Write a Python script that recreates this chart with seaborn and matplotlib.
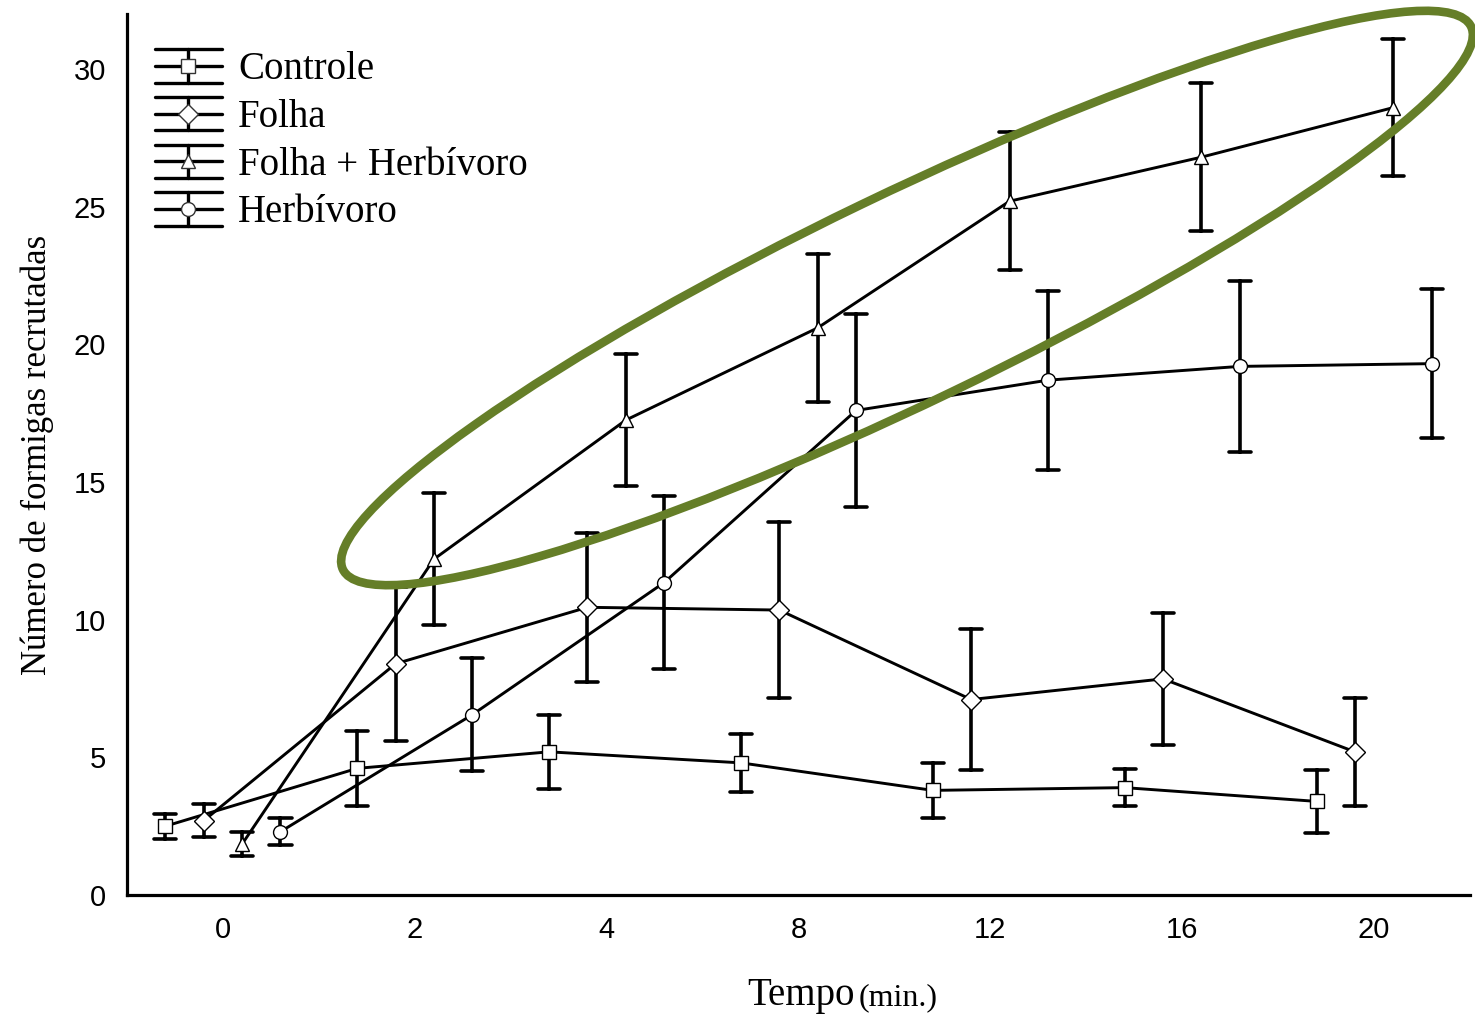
import matplotlib
matplotlib.use("Agg")
import matplotlib.pyplot as plt
from matplotlib.lines import Line2D
from matplotlib.patches import Ellipse
from matplotlib.transforms import IdentityTransform
from matplotlib.legend_handler import HandlerBase
import seaborn as sns
import pandas as pd

sns.set_theme(style="white")
plt.rcParams['font.family'] = ['Liberation Sans', 'DejaVu Sans']
plt.rcParams['text.color'] = 'black'
plt.rcParams['axes.labelcolor'] = 'black'

# data (mean +/- error bar)
tempos = ["0", "2", "4", "8", "12", "16", "20"]
grupos = ["Controle", "Folha", "Folha + Herbívoro", "Herbívoro"]
marcadores = ["s", "D", "^", "o"]

controle_media = [2.5, 4.6, 5.2, 4.8, 3.8, 3.9, 3.4]
controle_erro = [0.45, 1.35, 1.35, 1.05, 1.0, 0.67, 1.15]
folha_media = [2.7, 8.4, 10.45, 10.35, 7.1, 7.85, 5.2]
folha_erro = [0.6, 2.8, 2.7, 3.2, 2.55, 2.4, 1.95]
fh_media = [1.85, 12.2, 17.25, 20.6, 25.2, 26.8, 28.6]
fh_erro = [0.45, 2.4, 2.4, 2.7, 2.5, 2.7, 2.5]
herb_media = [2.3, 6.55, 11.35, 17.6, 18.7, 19.2, 19.3]
herb_erro = [0.5, 2.05, 3.15, 3.5, 3.25, 3.1, 2.7]

medias = [controle_media, folha_media, fh_media, herb_media]
erros = [controle_erro, folha_erro, fh_erro, herb_erro]

# long table: lower end, mean, upper end -> median = mean, min/max = error bar
rows = []
for g, med, err in zip(grupos, medias, erros):
    for t, m, e in zip(tempos, med, err):
        for v in (m - e, m, m + e):
            rows.append({"tempo": t, "grupo": g, "valor": v})
df = pd.DataFrame(rows)


class ErrorbarHandler(HandlerBase):
    """Legend key drawn like the original: errorbar with wide caps."""
    def create_artists(self, legend, orig_handle, xdescent, ydescent,
                       width, height, fontsize, trans):
        x0, x1 = -xdescent, -xdescent + width
        y0, y1 = -ydescent, -ydescent + height
        xm, ym = (x0 + x1) / 2, (y0 + y1) / 2
        arts = [Line2D([x0, x1], [y, y], color='black', lw=2.4) for y in (y0, ym, y1)]
        arts.append(Line2D([xm, xm], [y0, y1], color='black', lw=2.4))
        arts.append(Line2D([xm], [ym], marker=orig_handle.get_marker(), markersize=10,
                           markerfacecolor='white', markeredgecolor='#333333',
                           markeredgewidth=1, linestyle=''))
        for a in arts:
            a.set_transform(trans)
        return arts


fig = plt.figure(figsize=(14.75, 10.16), dpi=100)
ax = fig.add_axes([127 / 1475, 121 / 1016, 1343 / 1475, 881 / 1016])

sns.pointplot(data=df, x="tempo", y="valor", hue="grupo", order=tempos, hue_order=grupos,
              estimator="median", errorbar=lambda v: (v.min(), v.max()),
              dodge=0.6, markers=marcadores, linestyles="-", palette=["black"] * 4,
              capsize=0.115, err_kws={"linewidth": 2.6, "zorder": 2},
              markersize=10, markerfacecolor="white", markeredgecolor="black",
              markeredgewidth=1, linewidth=2.1, zorder=3, legend=False, ax=ax)

ax.set_xlim(-0.5, 6.5)
ax.set_ylim(0, 32)
ax.set_yticks([0, 5, 10, 15, 20, 25, 30])
sns.despine(ax=ax)
for s in ("left", "bottom"):
    ax.spines[s].set_linewidth(2.3)
    ax.spines[s].set_color("black")
ax.tick_params(direction="in", length=8, width=2.3, labelsize=21, pad=15, colors="black")
ax.tick_params(axis="y", pad=15)

ax.set_xlabel("")
ax.set_ylabel("Número de formigas recrutadas", family="Liberation Serif", fontsize=25)
ax.yaxis.set_label_coords(-0.054, 0.5)
fig.text(855 / 1475, 11 / 1016, "Tempo", family="Liberation Serif", fontsize=28,
         ha="right", va="baseline")
fig.text(859 / 1475, 11 / 1016, "(min.)", family="Liberation Serif", fontsize=23,
         ha="left", va="baseline")

proxies = [Line2D([], [], marker=m, linestyle="-", color="black") for m in marcadores]
ax.legend(proxies, grupos, handler_map={Line2D: ErrorbarHandler()}, loc="upper left",
          bbox_to_anchor=(0.0208, 0.960), frameon=False,
          prop={"family": "Liberation Serif", "size": 28},
          handlelength=1.72, handleheight=0.95, handletextpad=0.42,
          labelspacing=0.22, borderpad=0, borderaxespad=0)

# green highlight ellipse around the "Folha + Herbívoro" series
ell = Ellipse((907, 718), width=1252, height=208, angle=25.7, fill=False,
              edgecolor="#657e28", linewidth=6.2, transform=IdentityTransform(),
              clip_on=False, zorder=5)
fig.add_artist(ell)

plt.savefig("out.png", dpi=100)
